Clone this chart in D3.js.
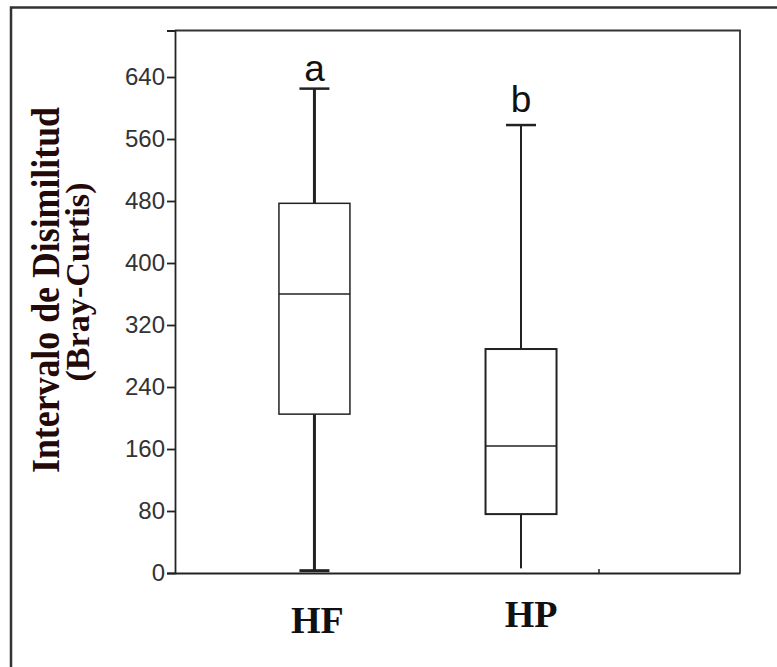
<!DOCTYPE html>
<html>
<head>
<meta charset="utf-8">
<script src="https://cdn.jsdelivr.net/npm/d3@7"></script>
<style>
  html, body { margin: 0; padding: 0; background: #fff; }
  svg { display: block; }
</style>
</head>
<body>
<svg id="chart"></svg>
<script>
// Data
const categories = ["HF", "HP"];
const whiskerLow = [3, 6];
const q1 = [205, 76];
const median = [360, 164];
const q3 = [477, 289];
const whiskerHigh = [625, 578];
const letters = ["a", "b"];
const yTicks = [0, 80, 160, 240, 320, 400, 480, 560, 640];

const width = 777;
const height = 667;
const margin = { top: 30.5, right: 37, bottom: 94, left: 175 };

const svg = d3.select("#chart")
              .attr("width", width)
              .attr("height", height);

// Outer frame (left and top edges only show)
svg.append("path")
   .attr("d", `M11,${height + 5} V7.5 H${width + 5}`)
   .attr("fill", "none")
   .attr("stroke", "#333")
   .attr("stroke-width", 2.5);

// Scales
const yScale = d3.scaleLinear()
                 .domain([0, 700])
                 .range([height - margin.bottom, margin.top]);

const xScale = d3.scaleLinear()
                 .domain([0.325, 3.06])
                 .range([margin.left, width - margin.right]);

// Plot frame: top and right
svg.append("path")
   .attr("d", `M${margin.left},${margin.top} H${width - margin.right} V${height - margin.bottom}`)
   .attr("fill", "none")
   .attr("stroke", "#333")
   .attr("stroke-width", 1.8);

// Y axis
const yAxis = d3.axisLeft(yScale)
                .tickValues(yTicks)
                .tickSize(8)
                .tickPadding(2);

const gy = svg.append("g")
              .attr("transform", `translate(${margin.left},0)`)
              .call(yAxis);
gy.select(".domain").attr("stroke", "#222").attr("stroke-width", 1.8);
gy.selectAll(".tick line").attr("stroke", "#222").attr("stroke-width", 1.8);
gy.selectAll(".tick text")
  .attr("font-family", "'Liberation Sans Narrow', 'Liberation Sans', Arial, sans-serif")
  .attr("font-size", 24)
  .attr("fill", "#333");

// X axis (one small inner tick)
const xAxis = d3.axisBottom(xScale)
                .tickValues([2.375])
                .tickSizeInner(-4)
                .tickSizeOuter(0)
                .tickFormat("");

const gx = svg.append("g")
              .attr("transform", `translate(0,${height - margin.bottom})`)
              .call(xAxis);
gx.select(".domain").attr("stroke", "#222").attr("stroke-width", 1.8);
gx.selectAll(".tick line").attr("stroke", "#222").attr("stroke-width", 1.5);

// Boxes
const boxW = 71;
const capW = 30;
const whiskerW = [3, 2];
const boxStroke = [1.5, 2];

categories.forEach((c, i) => {
  const cx = xScale(i + 1);
  const g = svg.append("g").attr("stroke", "#222").attr("fill", "none");

  // whiskers
  g.append("line")
   .attr("x1", cx).attr("x2", cx)
   .attr("y1", yScale(whiskerHigh[i])).attr("y2", yScale(q3[i]))
   .attr("stroke-width", whiskerW[i]);
  g.append("line")
   .attr("x1", cx).attr("x2", cx)
   .attr("y1", yScale(q1[i])).attr("y2", yScale(whiskerLow[i]))
   .attr("stroke-width", whiskerW[i]);

  // caps
  g.append("line")
   .attr("x1", cx - capW / 2).attr("x2", cx + capW / 2)
   .attr("y1", yScale(whiskerHigh[i])).attr("y2", yScale(whiskerHigh[i]))
   .attr("stroke-width", 2.5);
  if (i === 0) {
    g.append("line")
     .attr("x1", cx - capW / 2).attr("x2", cx + capW / 2)
     .attr("y1", yScale(whiskerLow[i])).attr("y2", yScale(whiskerLow[i]))
     .attr("stroke-width", 3);
  }

  // box
  g.append("rect")
   .attr("x", cx - boxW / 2)
   .attr("y", yScale(q3[i]))
   .attr("width", boxW)
   .attr("height", yScale(q1[i]) - yScale(q3[i]))
   .attr("fill", "#fff")
   .attr("stroke-width", boxStroke[i]);

  // median
  g.append("line")
   .attr("x1", cx - boxW / 2).attr("x2", cx + boxW / 2)
   .attr("y1", yScale(median[i])).attr("y2", yScale(median[i]))
   .attr("stroke-width", 1.5);

  // significance letter
  svg.append("text")
     .attr("x", cx)
     .attr("y", yScale(whiskerHigh[i]) - (i === 0 ? 8 : 13))
     .attr("text-anchor", "middle")
     .attr("font-family", "'Liberation Sans', Arial, sans-serif")
     .attr("font-size", 37)
     .attr("fill", "#111")
     .text(letters[i]);

  // category label
  svg.append("text")
     .attr("x", cx + (i === 0 ? 3 : 10))
     .attr("y", i === 0 ? 633 : 627)
     .attr("text-anchor", "middle")
     .attr("font-family", "'Liberation Serif', 'Times New Roman', serif")
     .attr("font-weight", "bold")
     .attr("font-size", 38)
     .attr("fill", "#111")
     .text(c);
});

// Y axis title (two lines)
const title = svg.append("text")
                 .attr("transform", "rotate(-90)")
                 .attr("text-anchor", "middle")
                 .attr("font-family", "'Liberation Serif', 'Times New Roman', serif")
                 .attr("font-weight", "bold")
                 .attr("fill", "#240909");
title.append("tspan")
     .attr("x", -290).attr("y", 59)
     .attr("font-size", 39)
     .attr("textLength", 366)
     .attr("lengthAdjust", "spacingAndGlyphs")
     .text("Intervalo de Disimilitud");
title.append("tspan")
     .attr("x", -282).attr("y", 89)
     .attr("font-size", 34)
     .attr("textLength", 199)
     .attr("lengthAdjust", "spacingAndGlyphs")
     .text("(Bray-Curtis)");
</script>
</body>
</html>
